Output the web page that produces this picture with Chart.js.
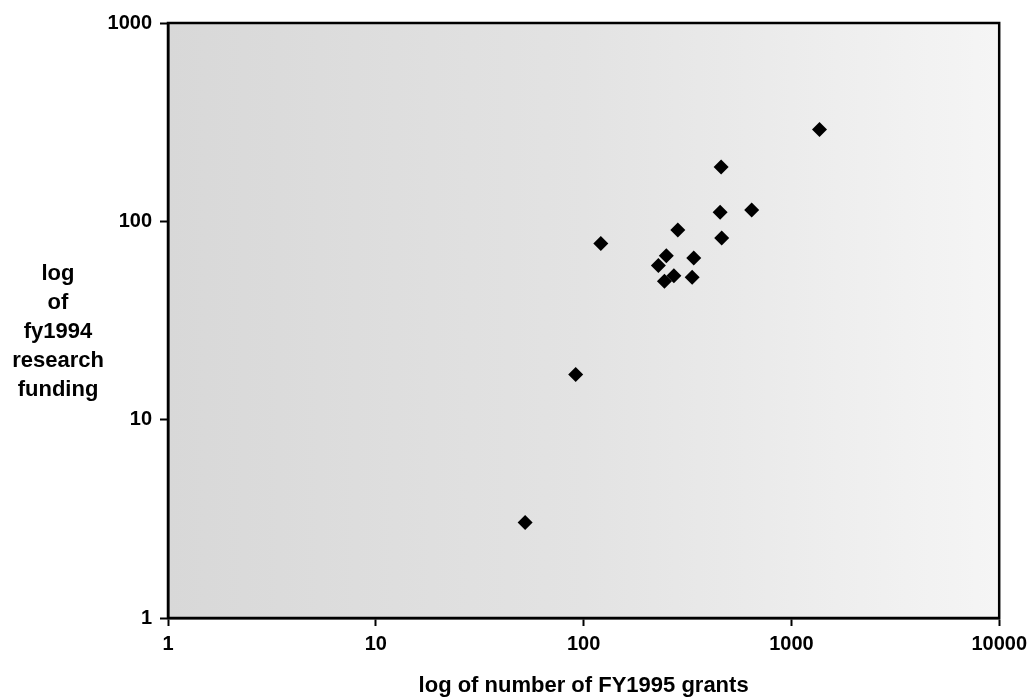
<!DOCTYPE html>
<html>
<head>
<meta charset="utf-8">
<script src="https://cdn.jsdelivr.net/npm/chart.js@4.4.1/dist/chart.umd.min.js"></script>
<style>
  html, body { margin: 0; padding: 0; background: #ffffff; }
  #wrap { width: 1033px; height: 700px; position: relative; }
</style>
</head>
<body>
<div id="wrap"><canvas id="c" width="1033" height="700"></canvas></div>
<script>
// Data
const grantsFY1995   = [459, 454, 644, 284, 462, 121, 250, 339, 229, 272, 245, 333, 1365, 91.6, 52.3];
const fundingFY1994  = [188, 111, 114, 90.4, 82.4, 77.4, 67.1, 65.3, 59.8, 53.2, 49.9, 52.2, 290, 16.9, 3.03];
const xTickValues = [1, 10, 100, 1000, 10000];
const yTickValues = [1, 10, 100, 1000];
const xTitle = 'log of number of FY1995 grants';
const yTitleLines = ['log', 'of', 'fy1994', 'research', 'funding'];

const points = grantsFY1995.map((x, i) => ({ x: x, y: fundingFY1994[i] }));
const FONT = '"Liberation Sans", Arial, sans-serif';

const plotBackground = {
  id: 'plotBackground',
  beforeDraw(chart) {
    const { ctx, chartArea: a } = chart;
    const g = ctx.createLinearGradient(a.left, 0, a.right, 0);
    g.addColorStop(0, '#d8d8d8');
    g.addColorStop(0.5, '#e3e3e3');
    g.addColorStop(1, '#f5f5f5');
    ctx.save();
    ctx.fillStyle = g;
    ctx.fillRect(a.left, a.top, a.right - a.left, a.bottom - a.top);
    ctx.restore();
  },
  afterDraw(chart) {
    const { ctx, chartArea: a } = chart;
    ctx.save();
    ctx.strokeStyle = '#000';
    ctx.lineWidth = 2.5;
    ctx.strokeRect(a.left, a.top, a.right - a.left, a.bottom - a.top);
    // horizontal y-axis title
    ctx.fillStyle = '#000';
    ctx.font = 'bold 22px ' + FONT;
    ctx.textAlign = 'center';
    ctx.textBaseline = 'alphabetic';
    yTitleLines.forEach((t, i) => ctx.fillText(t, 58, 280 + i * 29));
    ctx.restore();
  }
};

new Chart(document.getElementById('c'), {
  type: 'scatter',
  data: {
    datasets: [{
      data: points,
      pointStyle: 'rectRot',
      pointRadius: 7.5,
      pointHoverRadius: 7.5,
      backgroundColor: '#000',
      borderColor: '#000',
      borderWidth: 0
    }]
  },
  options: {
    responsive: false,
    animation: false,
    devicePixelRatio: 1,
    layout: { padding: { left: 0, right: 33, top: 23, bottom: 0 } },
    plugins: { legend: { display: false }, tooltip: { enabled: false } },
    scales: {
      x: {
        type: 'logarithmic',
        min: 1, max: 10000,
        afterBuildTicks: (s) => { s.ticks = xTickValues.map(v => ({ value: v })); },
        afterFit: (s) => { s.height = 82; },
        border: { display: true, color: '#000', width: 2.5 },
        grid: { drawOnChartArea: false, drawTicks: true, tickLength: 8, tickColor: '#000', tickWidth: 2 },
        ticks: {
          color: '#000', padding: 6, maxRotation: 0, autoSkip: false,
          font: { family: FONT, size: 20, weight: 'bold' },
          callback: (v) => String(v)
        },
        title: {
          display: true, text: xTitle, color: '#000',
          padding: { top: 0, bottom: 1 },
          font: { family: FONT, size: 22, weight: 'bold' }
        }
      },
      y: {
        type: 'logarithmic',
        min: 1, max: 1000,
        afterBuildTicks: (s) => { s.ticks = yTickValues.map(v => ({ value: v })); },
        afterFit: (s) => { s.width = 168; },
        border: { display: true, color: '#000', width: 2.5 },
        grid: { drawOnChartArea: false, drawTicks: true, tickLength: 8, tickColor: '#000', tickWidth: 2 },
        ticks: {
          color: '#000', padding: 8, autoSkip: false,
          font: { family: FONT, size: 20, weight: 'bold' },
          callback: (v) => String(v)
        }
      }
    }
  },
  plugins: [plotBackground]
});
</script>
</body>
</html>
